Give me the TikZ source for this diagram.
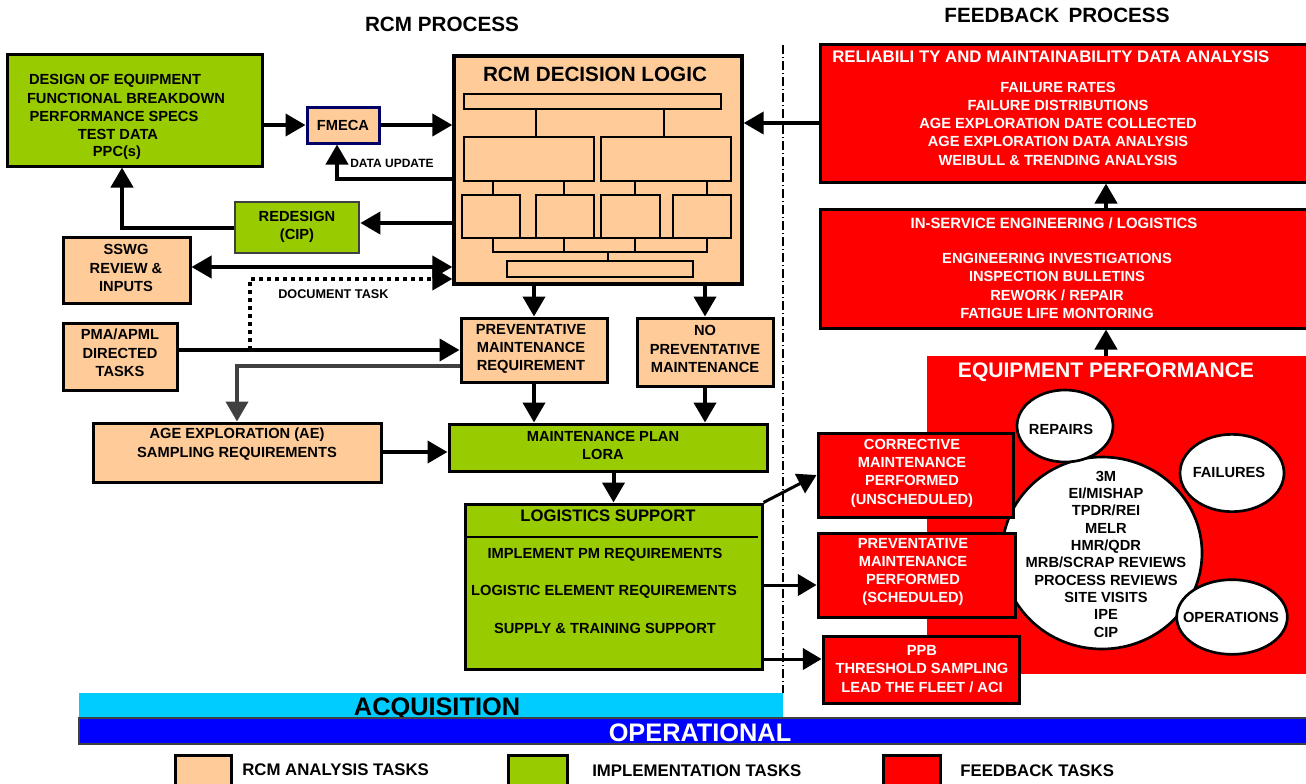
\documentclass[tikz,border=0pt]{standalone}
\usepackage{fontspec}
\setmainfont{Liberation Sans}
\usetikzlibrary{arrows.meta,shapes.geometric,fit}
\definecolor{peach}{HTML}{FFCC99}
\definecolor{lgreen}{HTML}{99CC00}
\definecolor{fred}{HTML}{FF0000}
\definecolor{acq}{HTML}{00CCFF}
\definecolor{opb}{HTML}{0000FF}
\definecolor{navy}{HTML}{000066}
\definecolor{dgray}{HTML}{404040}
\begin{document}
\begin{tikzpicture}[x=0.75pt,y=-0.75pt,
 txt/.style={font=\fontsize{11}{13.7}\selectfont\bfseries, align=center, inner sep=0pt},
 btxt/.style={txt, anchor=base},
 wtxt/.style={txt, text=white},
 bx/.style={draw, line width=2.25pt, inner sep=0pt},
 pbox/.style={bx, fill=peach},
 gbox/.style={bx, fill=lgreen},
 rbox/.style={bx, fill=fred},
 arr/.style={draw, line width=3pt, -{Triangle[length=15pt,width=16.5pt]}},
 darr/.style={draw, line width=3pt, {Triangle[length=15pt,width=16.5pt]}-{Triangle[length=15pt,width=16.5pt]}},
 sarr/.style={draw, line width=2.25pt, -{Triangle[length=14pt,width=16pt]}},
 garr/.style={draw=dgray, line width=3pt, -{Triangle[length=15pt,width=16.5pt]}},
 dotarr/.style={draw, line width=3pt, dash pattern=on 3pt off 3pt, -{Triangle[length=15pt,width=16.5pt]}},
 inner/.style={line width=1.5pt},
 thin/.style={line width=0.9pt},
 bubble/.style={draw, ellipse, line width=2pt, fill=white, inner sep=0pt},
 title/.style={font=\fontsize{15.5}{18}\selectfont\bfseries, inner sep=0pt},
 small/.style={font=\fontsize{9}{11}\selectfont\bfseries, inner sep=0pt, anchor=west},
 legend/.style={font=\fontsize{12.6}{14}\selectfont\bfseries, inner sep=0pt, anchor=west}
]
\clip (0,0) rectangle (1306,783);

% titles
\node[title] (t1) at (442,24) {RCM PROCESS};
\node[title] (t2) at (1057,15) {FEEDBACK\hspace{0.45em}PROCESS};

% separator
\draw[line width=1pt, dash pattern=on 7pt off 2pt on 1pt off 2pt] (783,45) -- (783,693);

% left boxes
\node[gbox, fit={(7,54) (262,166)}] (design) {};
\node[btxt] (design1) at (115,84.5) {DESIGN OF EQUIPMENT};
\node[btxt] (design2) at (126,103) {FUNCTIONAL BREAKDOWN};
\node[btxt] (design3) at (114,121.5) {PERFORMANCE SPECS};
\node[btxt] (design4) at (118,139) {TEST DATA};
\node[btxt] (design5) at (117,156.5) {PPC(s)};
\node[bx, draw=navy, fill=peach, fit={(307,107) (379,143)}] (fmeca) {};
\node[txt] (fmecat) at (343,125) {FMECA};
\node[bx, draw=dgray, line width=2pt, fill=lgreen, fit={(235,202) (359,253)}] (redesign) {};
\node[txt] (redesignt) at (297,227) {REDESIGN\\(CIP)};
\node[pbox, fit={(63,237) (190,303)}] (sswg) {};
\node[txt] (sswgt) at (126,268) {SSWG\\REVIEW \&\\INPUTS};
\node[pbox, fit={(63,323) (177,390)}] (pma) {};
\node[txt] (pmat) at (120,353) {PMA/APML\\DIRECTED\\TASKS};
\node[pbox, fit={(93,423) (381,482)}] (ae) {};
\node[txt] (aet) at (237,444) {AGE EXPLORATION (AE)\\SAMPLING REQUIREMENTS};

% decision logic
\node[pbox, line width=2.5pt, fit={(454,56) (742,284)}] (logic) {};
\node[title] (logict) at (595,74) {RCM DECISION LOGIC};
\draw[inner] (464,94) rectangle (721,109);
\draw[inner] (464,137) rectangle (594,181);
\draw[inner] (601,137) rectangle (731,181);
\draw[inner] (462,195) rectangle (520,238);
\draw[inner] (536,195) rectangle (594,238);
\draw[inner] (601,195) rectangle (660,238);
\draw[inner] (673,195) rectangle (731,238);
\draw[inner] (507,261) rectangle (693,277);
\draw[inner] (536,109) -- (536,137);
\draw[inner] (664,109) -- (664,137);
\draw[thin] (493,181) -- (493,195) (564,181) -- (564,195) (635,181) -- (635,195) (707,181) -- (707,195);
\draw[thin] (493,238) -- (493,252) -- (707,252) -- (707,238);
\draw[thin] (564,238) -- (564,252) (635,238) -- (635,252) (608,252) -- (608,261);
\draw[thin] (462,238) -- (731,238);

% middle boxes
\node[pbox, fit={(461,318) (607,382)}] (pmreq) {};
\node[txt] (pmreqt) at (531,349) {PREVENTATIVE\\MAINTENANCE\\REQUIREMENT};
\node[pbox, fit={(637,318) (773,386)}] (nopm) {};
\node[txt] (nopmt) at (705,349) {NO\\PREVENTATIVE\\MAINTENANCE};
\node[gbox, fit={(449,424) (767,471)}] (mp) {};
\node[txt] (mpt) at (603,445.5) {MAINTENANCE PLAN\\LORA};
\node[gbox, fit={(465,504) (762,669)}] (log) {};
\draw[line width=1.2pt] (465,537) -- (758,537);
\node[txt, font=\fontsize{12.5}{15}\selectfont\bfseries] (logt) at (608,516) {LOGISTICS SUPPORT};
\node[txt] (log1) at (605,555) {IMPLEMENT PM REQUIREMENTS};
\node[txt] (log2) at (604,592) {LOGISTIC ELEMENT REQUIREMENTS};
\node[txt] (log3) at (605,628) {SUPPLY \& TRAINING SUPPORT};

% feedback side
\node[rbox, fit={(820,44) (1315,182)}] (rm) {};
\node[wtxt, anchor=west, font=\fontsize{12.6}{15}\selectfont\bfseries] (rmt) at (832,57) {RELIABILI TY AND MAINTAINABILITY DATA ANALYSIS};
\node[wtxt] (rml) at (1058,123.5) {FAILURE RATES\\FAILURE DISTRIBUTIONS\\AGE EXPLORATION DATE COLLECTED\\AGE EXPLORATION DATA ANALYSIS\\WEIBULL \& TRENDING ANALYSIS};
\node[rbox, fit={(820,209) (1315,328)}] (inserv) {};
\node[wtxt, font=\fontsize{11.2}{14}\selectfont\bfseries] (inservt) at (1054,223) {IN-SERVICE ENGINEERING / LOGISTICS};
\node[wtxt] (inservl) at (1057,286) {ENGINEERING INVESTIGATIONS\\INSPECTION BULLETINS\\REWORK / REPAIR\\FATIGUE LIFE MONTORING};
\node[fill=fred, inner sep=0pt, fit={(927,356) (1315,674)}] (equip) {};
\node[title, text=white, font=\fontsize{15.8}{18}\selectfont\bfseries] (equipt) at (1106,372) {EQUIPMENT PERFORMANCE};

\node[bubble, minimum width=150pt, minimum height=144pt] (bigc) at (1102,553) {};
\node[txt, font=\fontsize{11}{13}\selectfont\bfseries] (bigct) at (1106,554) {3M\\EI/MISHAP\\TPDR/REI\\MELR\\HMR/QDR\\MRB/SCRAP REVIEWS\\PROCESS REVIEWS\\SITE VISITS\\IPE\\CIP};
\node[bubble, minimum width=72pt, minimum height=54pt] (repairs) at (1065,426) {};
\node[txt] (repairst) at (1061,429) {REPAIRS};
\node[bubble, minimum width=78pt, minimum height=58pt] (failures) at (1232,473) {};
\node[txt] (failurest) at (1229,472) {FAILURES};
\node[bubble, minimum width=83pt, minimum height=56pt] (oper) at (1232,617) {};
\node[txt] (opert) at (1231,617) {OPERATIONS};

\node[rbox, fit={(818,433) (1013,517)}] (corr) {};
\node[wtxt] (corrt) at (912,473) {CORRECTIVE\\MAINTENANCE\\PERFORMED\\(UNSCHEDULED)};
\node[rbox, fit={(818,533) (1015,617)}] (prevperf) {};
\node[wtxt] (prevperft) at (913,572) {PREVENTATIVE\\MAINTENANCE\\PERFORMED\\(SCHEDULED)};
\node[rbox, fit={(823,636) (1019,703)}] (ppb) {};
\node[wtxt] (ppbt) at (922,669) {PPB\\THRESHOLD SAMPLING\\LEAD THE FLEET / ACI};

% connectors
\draw[arr] (design.east |- fmeca.west) -- (fmeca.west);
\draw[arr] (fmeca.east) -- (fmeca.east -| logic.west);
\coordinate (rmy) at (0,123);
\draw[arr] (rm.west |- rmy) -- (logic.east |- rmy);
\coordinate (du) at (337,179);
\draw[arr] (logic.west |- du) -- (du) -- (du |- fmeca.south);
\node[small] (dut) at (350,163) {DATA UPDATE};
\coordinate (rdy) at (0,223);
\draw[arr] (logic.west |- rdy) -- (redesign.east |- rdy);
\coordinate (rdx) at (122,227);
\draw[arr] (redesign.west) -- (rdx |- redesign.west) -- (rdx |- design.south);
\coordinate (sw) at (0,267);
\draw[darr] (sswg.east |- sw) -- (logic.west |- sw);
\coordinate (dt) at (250,279);
\draw[dotarr] (dt |- pmreq.west) -- (dt) -- (dt -| logic.west);
\node[small, font=\fontsize{9.5}{11}\selectfont\bfseries] (dtt) at (278,294) {DOCUMENT TASK};
\draw[arr] (pma.east |- pmreq.west) -- (pmreq.west);
\coordinate (gx) at (237,366);
\draw[garr] (pmreq.west |- gx) -- (gx) -- (gx |- ae.north);
\coordinate (aey) at (0,452);
\draw[arr] (ae.east |- aey) -- (mp.west |- aey);
\draw[arr] (pmreq.north |- logic.south) -- (pmreq.north);
\draw[arr] (nopm.north |- logic.south) -- (nopm.north);
\draw[arr] (pmreq.south) -- (pmreq.south |- mp.north);
\draw[arr] (nopm.south) -- (nopm.south |- mp.north);
\draw[arr] (log.north |- mp.south) -- (log.north);
\draw[sarr] (log.north east) -- (corr.west);
\coordinate (pa) at (0,585);
\draw[sarr] (log.east |- pa) -- (prevperf.west |- pa);
\coordinate (pb) at (0,659);
\draw[sarr] (log.east |- pb) -- (ppb.west |- pb);
\coordinate (fx) at (1106,0);
\draw[arr] (inserv.north -| fx) -- (rm.south -| fx);
\draw[arr] (equip.north -| fx) -- (inserv.south -| fx);

% phase bars
\node[fill=acq, inner sep=0pt, fit={(79,693) (783,718)}] (acqbar) {};
\node[font=\fontsize{19}{22}\selectfont\bfseries, inner sep=0pt] (acqt) at (437,709) {ACQUISITION};
\node[fill=opb, draw=dgray, line width=1pt, inner sep=0pt, fit={(79,718) (1315,744)}] (opbar) {};
\node[font=\fontsize{19}{22}\selectfont\bfseries, text=white, inner sep=0pt] (opt) at (700,733) {OPERATIONAL};

% legend
\node[pbox, fit={(175,755) (231,795)}] (lg1) {};
\node[legend] (lg1t) at (242,770) {RCM ANALYSIS TASKS};
\node[gbox, fit={(508,755) (567,795)}] (lg2) {};
\node[legend] (lg2t) at (592,771) {IMPLEMENTATION TASKS};
\node[rbox, fit={(883,755) (940,795)}] (lg3) {};
\node[legend] (lg3t) at (960,771) {FEEDBACK TASKS};
\end{tikzpicture}
\end{document}
